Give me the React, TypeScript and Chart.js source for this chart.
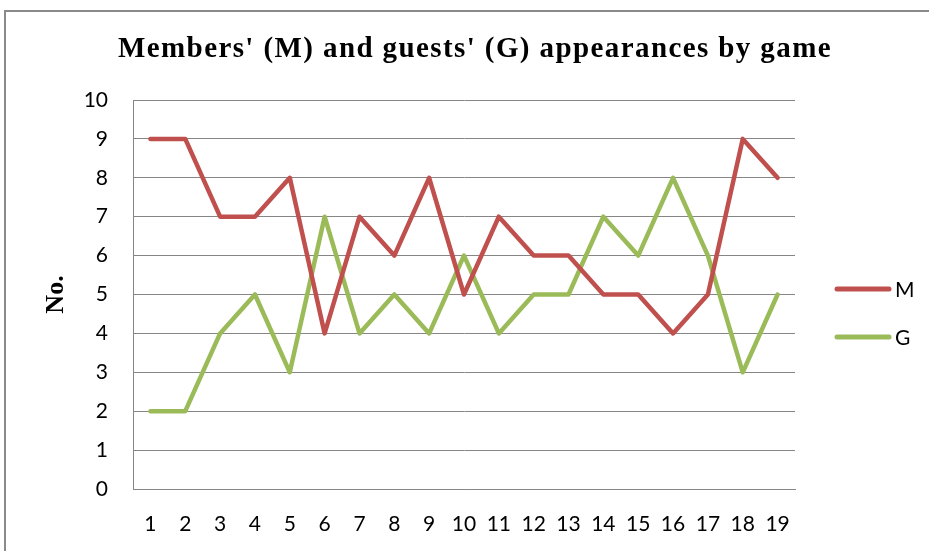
import React, { useEffect, useRef } from "react";
import { Chart, registerables } from "chart.js";

Chart.register(...registerables);

const games = ["1","2","3","4","5","6","7","8","9","10","11","12","13","14","15","16","17","18","19"];
const membersM = [9, 9, 7, 7, 8, 4, 7, 6, 8, 5, 7, 6, 6, 5, 5, 4, 5, 9, 8];
const guestsG = [2, 2, 4, 5, 3, 7, 4, 5, 4, 6, 4, 5, 5, 7, 6, 8, 6, 3, 5];
const seriesNames = ["M", "G"];
const seriesColors = ["#C0504D", "#9BBB59"];
const chartTitle = "Members' (M) and guests' (G) appearances by game";
const yTitle = "No.";

const W = 929;
const H = 551;
const gridColor = "#868686";
const sansFont = "Lato";

const titlePlugin = {
  id: "centeredTitle",
  afterDraw(chart: any) {
    const ctx = chart.ctx;
    ctx.save();
    ctx.fillStyle = "#000";
    ctx.font = "bold 29px 'Liberation Serif', serif";
    try {
      (ctx as any).letterSpacing = "1.4px";
    } catch (e) {}
    ctx.textAlign = "center";
    ctx.textBaseline = "alphabetic";
    ctx.fillText(chartTitle, 475, 57);
    ctx.restore();
  },
};

const legendPlugin = {
  id: "sideLegend",
  afterDraw(chart: any) {
    const ctx = chart.ctx;
    const items = chart.data.datasets;
    ctx.save();
    items.forEach((ds: any, i: number) => {
      const y = 289 + i * 48;
      ctx.strokeStyle = ds.borderColor;
      ctx.lineWidth = 5;
      ctx.lineCap = "round";
      ctx.beginPath();
      ctx.moveTo(837, y);
      ctx.lineTo(889, y);
      ctx.stroke();
      ctx.fillStyle = "#000";
      ctx.font = `21px ${sansFont}`;
      ctx.textAlign = "left";
      ctx.textBaseline = "middle";
      ctx.fillText(ds.label, 895, y + 1);
    });
    ctx.restore();
  },
};

export default function App() {
  const ref = useRef<HTMLCanvasElement>(null);
  useEffect(() => {
    if (!ref.current) return;
    const chart = new Chart(ref.current, {
      type: "line",
      data: {
        labels: games,
        datasets: [
          {
            label: seriesNames[0],
            data: membersM,
            borderColor: seriesColors[0],
            backgroundColor: seriesColors[0],
            borderWidth: 4.5,
            pointRadius: 0,
            tension: 0,
            borderJoinStyle: "round",
            borderCapStyle: "round",
          },
          {
            label: seriesNames[1],
            data: guestsG,
            borderColor: seriesColors[1],
            backgroundColor: seriesColors[1],
            borderWidth: 4.5,
            pointRadius: 0,
            tension: 0,
            borderJoinStyle: "round",
            borderCapStyle: "round",
          },
        ],
      },
      options: {
        responsive: false,
        animation: false,
        devicePixelRatio: 1,
        layout: { padding: { left: 0, right: W - 795, top: 100, bottom: 0 } },
        plugins: {
          legend: { display: false },
          tooltip: { enabled: false },
          title: { display: false },
        },
        scales: {
          x: {
            offset: true,
            grid: { display: false, drawTicks: false },
            border: { display: true, color: gridColor, width: 1 },
            ticks: {
              color: "#000",
              font: { family: sansFont, size: 21 },
              padding: 23,
              maxRotation: 0,
              autoSkip: false,
            },
            afterFit(scale: any) {
              scale.height = 62;
            },
          },
          y: {
            min: 0,
            max: 10,
            grid: { color: gridColor, lineWidth: 1, drawTicks: false },
            border: { display: true, color: gridColor, width: 1 },
            ticks: {
              stepSize: 1,
              color: "#000",
              font: { family: sansFont, size: 21 },
              padding: 25,
            },
            title: {
              display: true,
              text: yTitle,
              color: "#000",
              font: { family: "'Liberation Serif', serif", size: 26, weight: "bold", lineHeight: 1.2 },
              padding: { top: 41, bottom: 0 },
            },
            afterFit(scale: any) {
              scale.width = 133;
            },
          },
        },
      },
      plugins: [titlePlugin, legendPlugin],
    });
    return () => chart.destroy();
  }, []);

  return (
    <div style={{ position: "absolute", left: 0, top: 0, width: W, height: H, overflow: "hidden", background: "#fff" }}>
      <div
        style={{
          position: "absolute",
          left: 4,
          top: 10,
          width: 1200,
          height: 1200,
          borderLeft: "2px solid #8a8a8a",
          borderTop: "2px solid #8a8a8a",
        }}
      />
      <canvas ref={ref} width={W} height={H} style={{ position: "absolute", left: 0, top: 0, width: W, height: H }} />
    </div>
  );
}
